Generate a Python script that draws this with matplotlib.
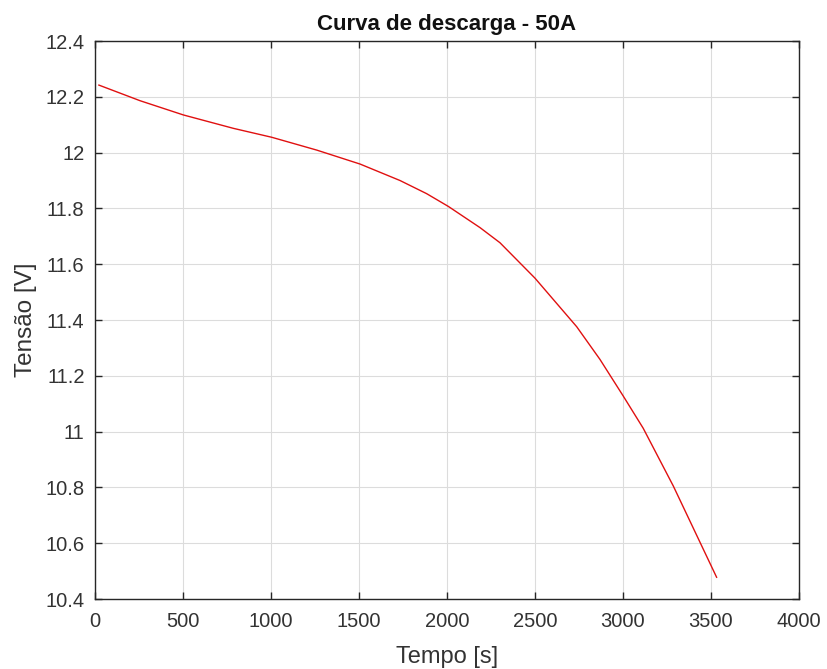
import matplotlib
matplotlib.use("Agg")
import matplotlib.pyplot as plt

tempo = [22, 256, 502, 786, 1004, 1260, 1506, 1733, 1884, 2008, 2188, 2301, 2500, 2737, 2869, 3002, 3115, 3286, 3532]
tensao = [12.242, 12.186, 12.135, 12.087, 12.055, 12.009, 11.959, 11.900, 11.853, 11.807, 11.731, 11.677, 11.55, 11.376, 11.259, 11.127, 11.012, 10.805, 10.478]
xticks = [0, 500, 1000, 1500, 2000, 2500, 3000, 3500, 4000]
yticks = [10.4, 10.6, 10.8, 11.0, 11.2, 11.4, 11.6, 11.8, 12.0, 12.2, 12.4]
ytick_labels = ["10.4", "10.6", "10.8", "11", "11.2", "11.4", "11.6", "11.8", "12", "12.2", "12.4"]

plt.rcParams['font.family'] = ['Liberation Sans', 'DejaVu Sans']
fig = plt.figure(figsize=(8.27, 6.69), dpi=100)
ax = fig.add_axes([0.1149, 0.1046, 0.9661 - 0.1149, 0.9387 - 0.1046])
ax.plot(tempo, tensao, color='#e01010', lw=1.0)
ax.set_xlim(0, 4000)
ax.set_ylim(10.4, 12.4)
ax.set_xticks(xticks)
ax.set_yticks(yticks)
ax.set_yticklabels(ytick_labels)
ax.grid(True, color='#dcdcdc', lw=0.8)
ax.set_axisbelow(True)
ax.tick_params(direction='in', top=True, right=True, length=5, width=1,
               colors='#262626', labelsize=14.5, labelcolor='#333333')
ax.tick_params(axis='x', pad=9.5)
ax.tick_params(axis='y', pad=7.5)
for s in ax.spines.values():
    s.set_color('#262626')
    s.set_linewidth(1.0)
ax.set_xlabel('Tempo [s]', fontsize=17, color='#333333', labelpad=11)
ax.set_ylabel('Tensão [V]', fontsize=17.5, color='#333333', labelpad=6)
ax.set_title('Curva de descarga - 50A', fontsize=16, fontweight='bold', color='#111111', pad=8)
fig.savefig('out.png', dpi=100, facecolor='white')
